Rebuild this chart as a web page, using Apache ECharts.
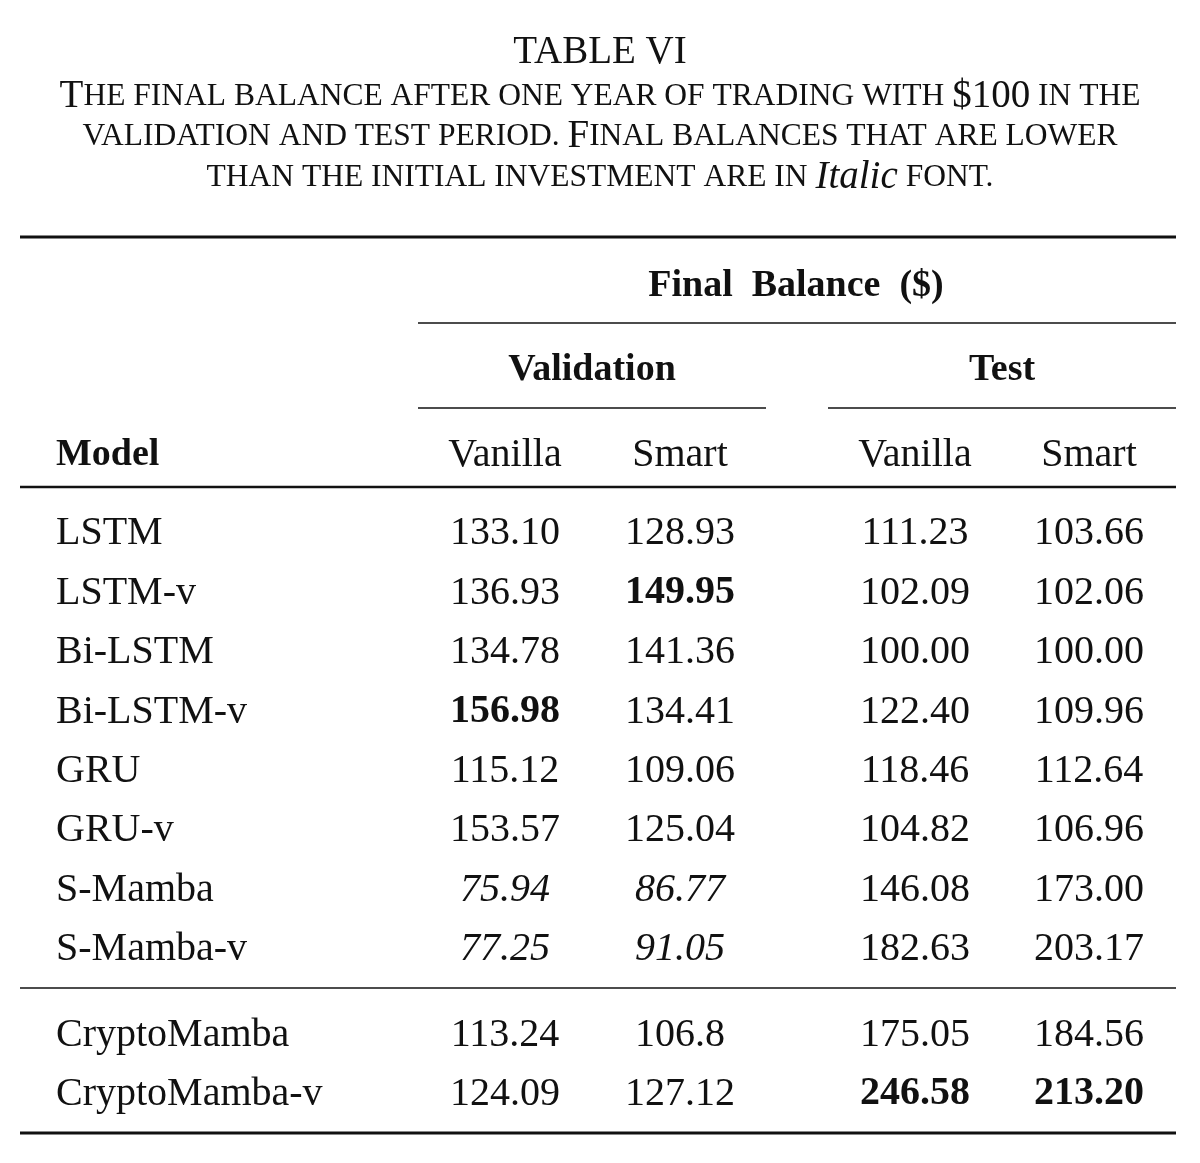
<!DOCTYPE html>
<html>
<head>
<meta charset="utf-8">
<script src="https://cdn.jsdelivr.net/npm/echarts@6/dist/echarts.min.js"></script>
<style>
  html, body { margin: 0; padding: 0; background: #fff; }
  #main { width: 1200px; height: 1163px; }
</style>
</head>
<body>
<div id="main"></div>
<script>
// table data
var models = ['LSTM', 'LSTM-v', 'Bi-LSTM', 'Bi-LSTM-v', 'GRU', 'GRU-v', 'S-Mamba', 'S-Mamba-v', 'CryptoMamba', 'CryptoMamba-v']
var valVanilla = ['133.10', '136.93', '134.78', '156.98', '115.12', '153.57', '75.94', '77.25', '113.24', '124.09']
var valSmart = ['128.93', '149.95', '141.36', '134.41', '109.06', '125.04', '86.77', '91.05', '106.8', '127.12']
var testVanilla = ['111.23', '102.09', '100.00', '122.40', '118.46', '104.82', '146.08', '182.63', '175.05', '246.58']
var testSmart = ['103.66', '102.06', '100.00', '109.96', '112.64', '106.96', '173.00', '203.17', '184.56', '213.20']
// best values in bold, below $100 in italic
var boldCells = [[1, 1], [3, 0], [9, 2], [9, 3]]
var colHeads = ['Vanilla', 'Smart', 'Vanilla', 'Smart']

var FONT = '"Liberation Serif", "DejaVu Serif", serif'
var chart = echarts.init(document.getElementById('main'))

var colX = [505, 680, 915, 1089]
var rowY = [533, 593, 652, 712, 771, 830, 890, 949, 1035, 1094]
var cols = [valVanilla, valSmart, testVanilla, testSmart]

function txt(x, y, s, opt) {
  opt = opt || {}
  return {
    type: 'text', x: x, y: y,
    style: {
      text: s, font: (opt.italic ? 'italic ' : '') + (opt.bold ? 'bold ' : '') + (opt.size || 40) + 'px ' + FONT,
      fill: '#111', align: opt.align || 'center', verticalAlign: 'middle', rich: opt.rich
    }
  }
}
function line(x1, x2, y, w) {
  return { type: 'line', shape: { x1: x1, y1: y, x2: x2, y2: y }, style: { stroke: '#111', lineWidth: w } }
}
function sc(parts) {
  // small caps: parts alternates big/small
  return parts.map(function (p, i) { return '{' + (i % 2 ? 's' : 'b') + '|' + p + '}' }).join('')
}
var scRich = {
  b: { font: '39px ' + FONT, fill: '#111' },
  s: { font: '31.5px ' + FONT, fill: '#111' },
  i: { font: 'italic 39px ' + FONT, fill: '#111' }
}

var els = []
els.push(txt(600, 53, 'TABLE VI', { size: 39 }))
els.push(txt(600, 97, sc(['T', 'HE FINAL BALANCE AFTER ONE YEAR OF TRADING WITH ', '$100', ' IN THE']), { rich: scRich }))
els.push(txt(600, 137, sc(['', 'VALIDATION AND TEST PERIOD. ', 'F', 'INAL BALANCES THAT ARE LOWER']), { rich: scRich }))
els.push(txt(600, 178, sc(['', 'THAN THE INITIAL INVESTMENT ARE IN ']) + '{i|Italic}{s| FONT.}', { rich: scRich }))

els.push(line(20, 1176, 237, 3))
els.push(txt(796, 286, 'Final  Balance  ($)', { bold: true, size: 38 }))
els.push(line(418, 1176, 323, 1.3))
els.push(txt(592, 370, 'Validation', { bold: true, size: 38 }))
els.push(txt(1002, 370, 'Test', { bold: true, size: 38 }))
els.push(line(418, 766, 408, 1.3))
els.push(line(828, 1176, 408, 1.3))
els.push(txt(56, 455, 'Model', { bold: true, align: 'left', size: 38 }))
colHeads.forEach(function (h, j) { els.push(txt(colX[j], 455, h)) })
els.push(line(20, 1176, 487, 2.5))
els.push(line(20, 1176, 988, 1.5))
els.push(line(20, 1176, 1133, 3))

models.forEach(function (m, i) {
  els.push(txt(56, rowY[i], m, { align: 'left' }))
  cols.forEach(function (c, j) {
    var v = c[i]
    var bold = boldCells.some(function (b) { return b[0] === i && b[1] === j })
    els.push(txt(colX[j], rowY[i], v, { bold: bold, italic: parseFloat(v) < 100 }))
  })
})

chart.setOption({ backgroundColor: '#fff', animation: false, graphic: { elements: els } })
</script>
</body>
</html>
